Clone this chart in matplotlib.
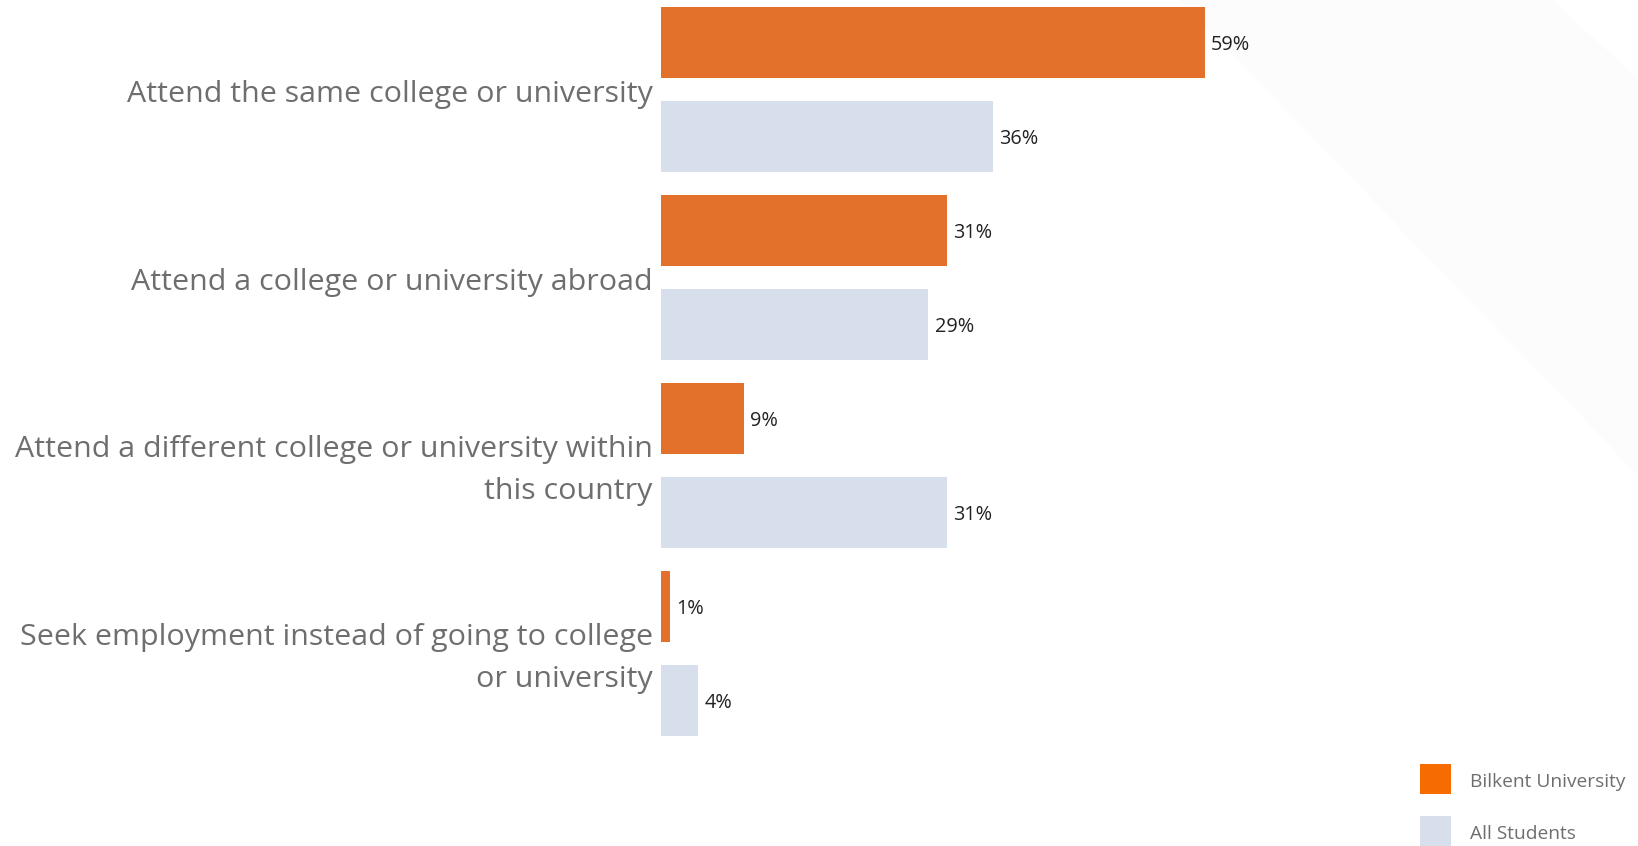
#!/usr/bin/env python3

import matplotlib.pyplot as plt
from matplotlib.patches import Polygon, Rectangle

categories = [
    "Attend the same college or university",
    "Attend a college or university abroad",
    "Attend a different college or university within\nthis country",
    "Seek employment instead of going to college\nor university",
]
series_names = ["Bilkent University", "All Students"]
bilkent = [59, 31, 9, 1]
all_students = [36, 29, 31, 4]

BAR_ORANGE = "#E3712C"
BAR_BLUE = "#D7DEEC"
LEG_ORANGE = "#F76C02"
LABEL_GREY = "#6E6E6E"


def main():
    plt.rcParams["font.family"] = ["Open Sans", "DejaVu Sans"]

    W, H = 1638, 846
    fig = plt.figure(figsize=(W / 100, H / 100), dpi=100)
    fig.patch.set_facecolor("white")

    # faint decorative band in the background
    band = [(1180, 0), (1553, 0), (1638, 80), (1638, 475)]
    fig.add_artist(
        Polygon(
            [(x / W, 1 - y / H) for x, y in band],
            closed=True,
            transform=fig.transFigure,
            color="#FCFCFD",
            lw=0,
            zorder=0,
        )
    )

    # axes starts at the bars' zero line, spans full height
    x0 = 661
    ax = fig.add_axes([x0 / W, 0, (W - x0) / W, 1])
    ax.set_axis_off()

    pitch = 94.0
    n_units = H / pitch
    top = 42.8 / pitch
    ax.set_ylim(n_units - top, -top)
    ax.set_xlim(0, (W - x0) / 9.22)

    bar_h = 0.755
    for i, (a, b) in enumerate(zip(bilkent, all_students)):
        ya = 2 * i
        yb = 2 * i + 1
        ax.barh(ya, a, height=bar_h, color=BAR_ORANGE, edgecolor="none")
        ax.barh(yb, b, height=bar_h, color=BAR_BLUE, edgecolor="none")
        for y, v in ((ya, a), (yb, b)):
            ax.annotate(
                f"{v}%",
                (v, y),
                xytext=(4.5, -1.5),
                textcoords="offset points",
                va="center",
                ha="left",
                fontsize=14.3,
                color="#222222",
            )
        ax.annotate(
            categories[i],
            (0, 2 * i + 0.5),
            xytext=(-6, -3.5),
            textcoords="offset points",
            va="center",
            ha="right",
            fontsize=21.9,
            color=LABEL_GREY,
            linespacing=1.62,
            annotation_clip=False,
        )

    # legend
    legend_colors = [LEG_ORANGE, BAR_BLUE]
    for j, (name, col) in enumerate(zip(series_names, legend_colors)):
        ytop = 764 + 52 * j
        fig.add_artist(
            Rectangle(
                (1420 / W, 1 - (ytop + 30) / H),
                31 / W,
                30 / H,
                transform=fig.transFigure,
                color=col,
                lw=0,
            )
        )
        fig.text(
            1470 / W,
            1 - (ytop + 18) / H,
            name,
            va="center",
            ha="left",
            fontsize=13.8,
            color=LABEL_GREY,
        )

    fig.savefig("out.png", dpi=100, facecolor="white")
    plt.close(fig)


if __name__ == "__main__":
    main()
